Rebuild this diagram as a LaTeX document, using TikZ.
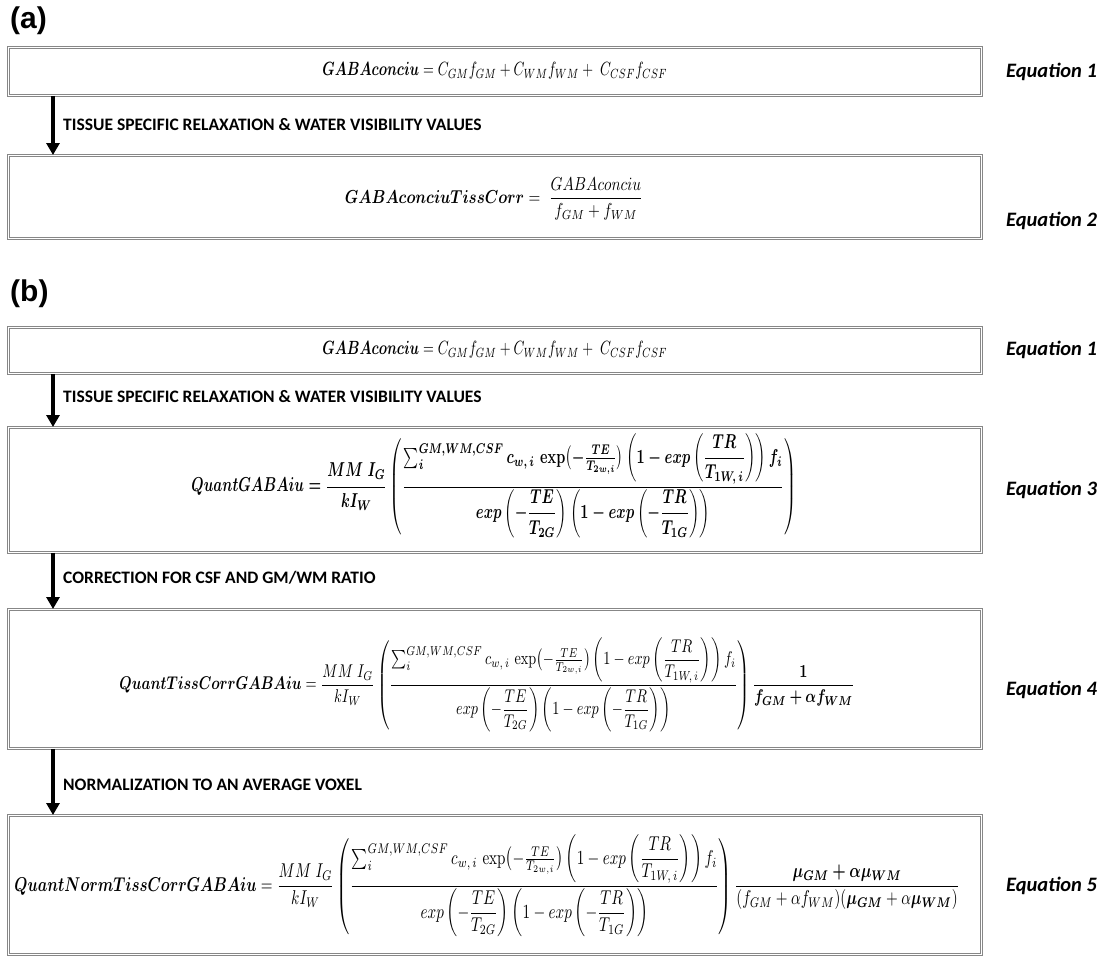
\documentclass[tikz,border=0pt]{standalone}
\usepackage[no-math]{fontspec}
\usepackage{amsmath}
\usepackage{bm}
\usepackage{graphicx}
\usetikzlibrary{arrows.meta}
\newfontfamily\calibri{Carlito}
\newfontfamily\arialf{Liberation Sans}
\definecolor{bordergray}{RGB}{135,135,135}
\newcommand{\gabafrac}{\dfrac{{\textstyle\sum_{i}^{GM,WM,CSF}}\, c_{w,\,i}\,\exp\bigl(-\tfrac{TE}{T_{2w,i}}\bigr)\left(1-exp\left(\dfrac{TR}{T_{1W,\,i}}\right)\right)f_i}{exp\left(-\dfrac{TE}{T_{2G}}\right)\left(1-exp\left(-\dfrac{TR}{T_{1G}}\right)\right)}}
\begin{document}
\begin{tikzpicture}[x=1pt,y=-1pt,
  box/.style={draw=bordergray, line width=0.9pt, double=white, double distance=1.3pt, fill=white, inner sep=0pt, anchor=north west},
  arr/.style={line width=4pt, -{Triangle[length=12pt,width=13pt]}},
  steplabel/.style={font=\calibri\bfseries\fontsize{17.5}{20}\selectfont, anchor=west, inner sep=0pt},
  eqlabel/.style={font=\calibri\bfseries\itshape\fontsize{20.5}{24}\selectfont, anchor=west, inner sep=0pt},
  panel/.style={font=\arialf\bfseries\fontsize{30}{34}\selectfont, anchor=west, inner sep=0pt},
  eqn/.style={inner sep=0pt}]
\useasboundingbox (0,0) rectangle (1102,959);
% panel labels
\node[panel] (pa) at (10,21) {(a)};
\node[panel] (pb) at (10,294) {(b)};
% (a) boxes
\node[box, minimum width=973pt, minimum height=48pt] (a1) at (8,47) {};
\node[box, minimum width=973pt, minimum height=83pt] (a2) at (8,155) {};
\node[eqn] (ea1) at ([yshift=1pt]a1.center) {\resizebox*{345pt}{17pt}{$\bm{GABAconciu} = C_{GM}f_{GM} + C_{WM}f_{WM} +\; C_{CSF}f_{CSF}$}};
\node[eqn] (ea2) at (494,199) {\resizebox*{298pt}{42pt}{$\bm{GABAconciuTissCorr} = \;\dfrac{GABAconciu}{f_{GM}+f_{WM}}$}};
\node[eqlabel] (la1) at (1006,72) {Equation 1};
\node[eqlabel] (la2) at (1006,221) {Equation 2};
\coordinate (xa) at (53,0);
\draw[arr] (a1.south -| xa) -- (a2.north -| xa);
\node[steplabel] (ta) at (63,125) {TISSUE SPECIFIC RELAXATION \& WATER VISIBILITY VALUES};
% (b) boxes
\node[box, minimum width=973pt, minimum height=46pt] (b1) at (8,327) {};
\node[box, minimum width=973pt, minimum height=125pt] (b2) at (8,427) {};
\node[box, minimum width=973pt, minimum height=139pt] (b3) at (8,609) {};
\node[box, minimum width=973pt, minimum height=139pt] (b4) at (8,815) {};
\node[eqn] (eb1) at ([yshift=1pt]b1.center) {\resizebox*{345pt}{17pt}{$\bm{GABAconciu} = C_{GM}f_{GM} + C_{WM}f_{WM} +\; C_{CSF}f_{CSF}$}};
\node[eqn] (eb2) at (494,486) {\resizebox*{605pt}{104pt}{\boldmath$QuantGABAiu = \dfrac{MM\; I_G}{kI_W}\left(\gabafrac\right)$}};
\node[eqn] (eb3) at (487,685) {\resizebox*{735pt}{94pt}{$\bm{QuantTissCorrGABAiu} = \dfrac{MM\; I_G}{kI_W}\left(\gabafrac\right)\dfrac{\mathbf{1}}{\bm{f_{GM}+\alpha f_{WM}}}$}};
\node[eqn] (eb4) at (487,886) {\resizebox*{945pt}{102pt}{$\bm{QuantNormTissCorrGABAiu} = \dfrac{MM\; I_G}{kI_W}\left(\gabafrac\right)\dfrac{\bm{\mu_{GM}+\alpha\mu_{WM}}}{(f_{GM}+\alpha f_{WM})(\bm{\mu_{GM}}+\alpha\bm{\mu_{WM}})}$}};
\node[eqlabel] (lb1) at (1006,350) {Equation 1};
\node[eqlabel] (lb2) at (1006,490) {Equation 3};
\node[eqlabel] (lb3) at (1006,690) {Equation 4};
\node[eqlabel] (lb4) at (1006,886) {Equation 5};
\draw[arr] (b1.south -| xa) -- (b2.north -| xa);
\draw[arr] (b2.south -| xa) -- (b3.north -| xa);
\draw[arr] (b3.south -| xa) -- (b4.north -| xa);
\node[steplabel] (tb1) at (63,397) {TISSUE SPECIFIC RELAXATION \& WATER VISIBILITY VALUES};
\node[steplabel] (tb2) at (63,578) {CORRECTION FOR CSF AND GM/WM RATIO};
\node[steplabel] (tb3) at (63,785) {NORMALIZATION TO AN AVERAGE VOXEL};
\end{tikzpicture}
\end{document}
